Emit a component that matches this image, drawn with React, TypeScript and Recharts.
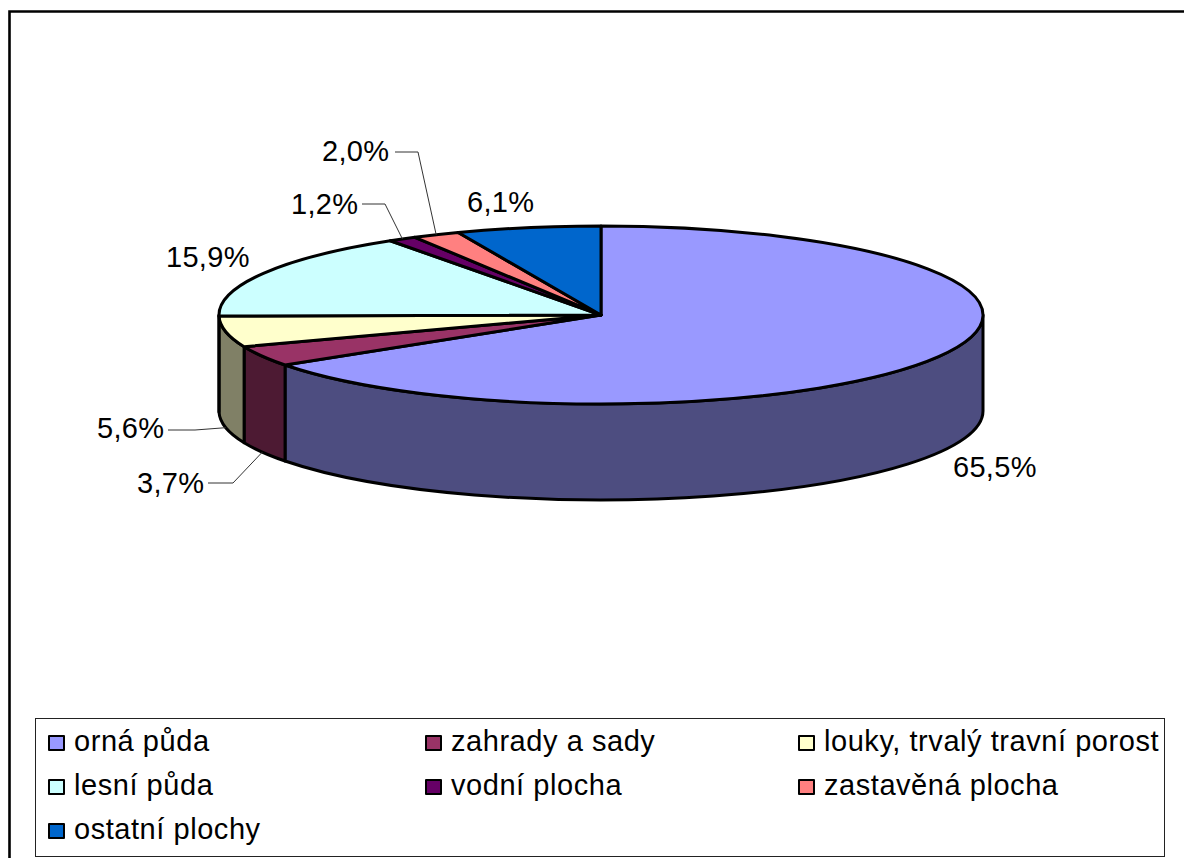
import { PieChart, Pie, Legend } from "recharts";

const landNames = ["orná půda", "zahrady a sady", "louky, trvalý travní porost", "lesní půda", "vodní plocha", "zastavěná plocha", "ostatní plochy"];
const landShares = [65.5, 3.7, 5.6, 15.9, 1.2, 2.0, 6.1];
const topColors = ["#9999FF", "#993366", "#FFFFCC", "#CCFFFF", "#660066", "#FF8080", "#0066CC"];
const wallColors = ["#4D4D80", "#4D1A33", "#808066", "#668080", "#330033", "#804040", "#003366"];

const chartData = landNames.map((name, i) => ({
  name,
  value: landShares[i],
  fill: topColors[i],
  wall: wallColors[i],
}));

const FONT = "'Liberation Sans', Arial, sans-serif";
const RX = 382;
const RY = 89;
const DEPTH = 96;

// where each percentage sits, and the elbow of its leader line (if it has one)
const labelLayout = [
  { x: 953, y: 477 },
  { x: 137, y: 493, line: [208, 483, 233, 483] },
  { x: 97, y: 438, line: [168, 430, 195, 430] },
  { x: 166, y: 267 },
  { x: 291, y: 214, line: [362, 204, 385, 204] },
  { x: 322, y: 161, line: [395, 152, 418, 152] },
  { x: 467, y: 212 },
];

const onEllipse = (cx: number, cy: number, deg: number) => {
  const rad = (deg * Math.PI) / 180;
  return [cx + RX * Math.cos(rad), cy - RY * Math.sin(rad)];
};

// Recharts gives the angles; the slice is flattened into the tilted disc here
const TiltedSlice = (props: any) => {
  const { cx, cy, startAngle, endAngle, fill, payload } = props;
  const [sx, sy] = onEllipse(cx, cy, startAngle);
  const [ex, ey] = onEllipse(cx, cy, endAngle);
  const large = Math.abs(startAngle - endAngle) > 180 ? 1 : 0;

  const wallStart = Math.min(startAngle, 0);
  const wallEnd = Math.max(endAngle, -180);
  let wall = null;
  if (wallStart > wallEnd) {
    const [wx1, wy1] = onEllipse(cx, cy, wallStart);
    const [wx2, wy2] = onEllipse(cx, cy, wallEnd);
    wall = (
      <path
        d={`M${wx1},${wy1} A${RX},${RY} 0 0 1 ${wx2},${wy2} L${wx2},${wy2 + DEPTH} A${RX},${RY} 0 0 0 ${wx1},${wy1 + DEPTH} Z`}
        fill={payload.wall}
        stroke="#000"
        strokeWidth={3}
        strokeLinejoin="round"
      />
    );
  }

  return (
    <g>
      {wall}
      <path
        d={`M${cx},${cy} L${sx},${sy} A${RX},${RY} 0 ${large} 1 ${ex},${ey} Z`}
        fill={fill}
        stroke="#000"
        strokeWidth={3}
        strokeLinejoin="round"
      />
    </g>
  );
};

const SliceLabel = (props: any) => {
  const { cx, cy, midAngle, value, index } = props;
  const spot = labelLayout[index];
  const text = value.toFixed(1).replace(".", ",") + "%";
  let leader = null;
  if (spot.line) {
    const [px, py] = onEllipse(cx, cy, midAngle);
    const tipY = Math.sin((midAngle * Math.PI) / 180) < 0 ? py + DEPTH : py;
    leader = (
      <polyline
        points={`${spot.line[0]},${spot.line[1]} ${spot.line[2]},${spot.line[3]} ${px},${tipY}`}
        fill="none"
        stroke="#333"
        strokeWidth={1}
      />
    );
  }
  return (
    <g>
      {leader}
      <text x={spot.x} y={spot.y} fontFamily={FONT} fontSize={29} letterSpacing={0.3} fill="#000" textAnchor="start">
        {text}
      </text>
    </g>
  );
};

const LegendBox = ({ payload }: any) => (
  <div
    style={{
      boxSizing: "border-box",
      width: 1130,
      height: 139,
      border: "1px solid #222",
      background: "#fff",
      padding: "0 0 0 12px",
      display: "grid",
      gridTemplateColumns: "377px 373px 1fr",
      gridAutoRows: 44,
      fontFamily: FONT,
      fontSize: 29,
      letterSpacing: 0.55,
      color: "#000",
    }}
  >
    {(payload || []).map((item: any) => (
      <div key={item.value} style={{ display: "flex", alignItems: "center", whiteSpace: "nowrap" }}>
        <span
          style={{
            boxSizing: "border-box",
            width: 17,
            height: 16,
            marginRight: 9,
            marginTop: 4,
            border: "2px solid #000",
            borderRadius: 1,
            background: item.color,
            flex: "none",
          }}
        />
        {item.value}
      </div>
    ))}
  </div>
);

export default function App() {
  return (
    <div style={{ position: "absolute", left: 0, top: 0, width: 1184, height: 858, overflow: "hidden", background: "#fff" }}>
      <PieChart width={1184} height={858} margin={{ top: 0, right: 0, bottom: 0, left: 0 }}>
        <path d="M9.5,858 L9.5,11.5 L1184,11.5" fill="none" stroke="#000" strokeWidth={2.6} />
        <Pie
          data={chartData}
          dataKey="value"
          nameKey="name"
          cx={601}
          cy={315}
          outerRadius={RX}
          startAngle={90}
          endAngle={-270}
          shape={TiltedSlice}
          label={SliceLabel}
          labelLine={false}
          isAnimationActive={false}
        />
        <Legend
          content={LegendBox}
          itemSorter={null}
          wrapperStyle={{ position: "absolute", left: 35, top: 718, width: 1130, height: 139, bottom: "auto" }}
        />
      </PieChart>
    </div>
  );
}
